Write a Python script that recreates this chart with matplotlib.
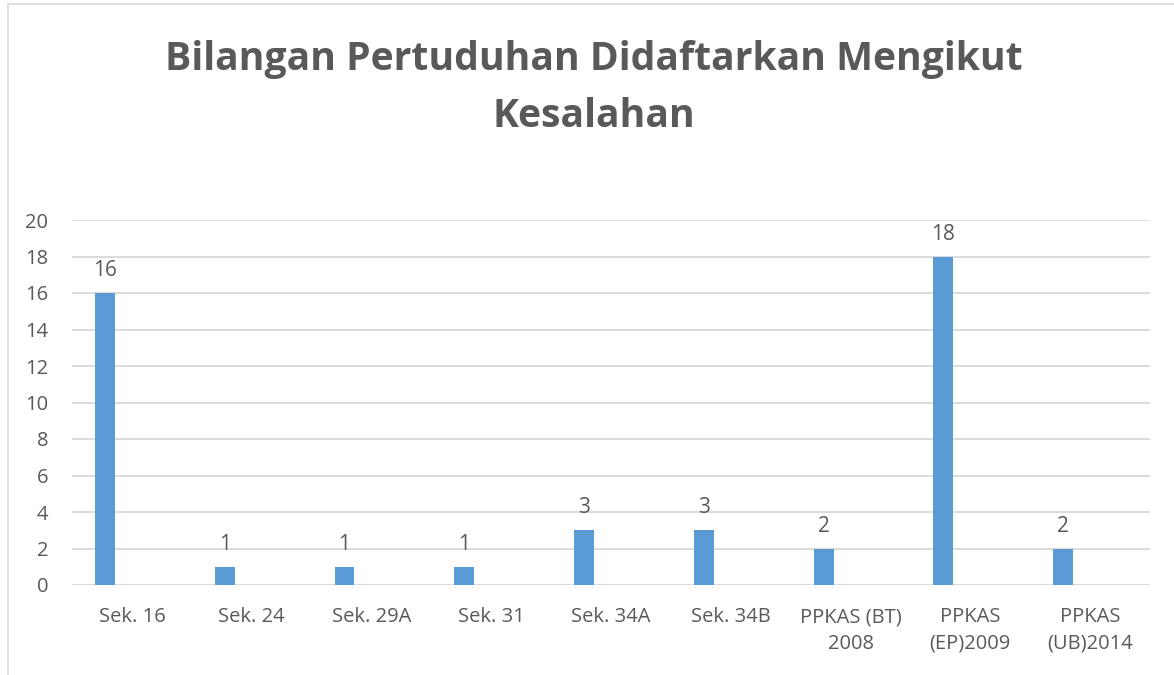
import matplotlib.pyplot as plt
import numpy as np
from matplotlib.patches import Rectangle

categories = ["Sek. 16", "Sek. 24", "Sek. 29A", "Sek. 31", "Sek. 34A", "Sek. 34B",
              "PPKAS (BT)\n2008", "PPKAS\n(EP)2009", "PPKAS\n(UB)2014"]
counts = [16, 1, 1, 1, 3, 3, 2, 18, 2]
y_ticks = [0, 2, 4, 6, 8, 10, 12, 14, 16, 18, 20]

TEXT = "#595959"
GRID = "#d9d9d9"
BAR = "#5b9bd5"

plt.rcParams['font.family'] = ['Open Sans', 'DejaVu Sans']

W, H = 1174, 675
fig = plt.figure(figsize=(W / 100, H / 100), dpi=100)

# chart border (Excel-style frame, cut by the screenshot on right/bottom)
fig.patches.append(Rectangle((8 / W, -0.1), 1.2, (1 - 4 / H) + 0.1,
                             transform=fig.transFigure, fill=False,
                             edgecolor=GRID, linewidth=1.2))

ax = fig.add_axes([72 / W, (H - 585) / H, (1150 - 72) / W, (585 - 220) / H])

x = np.arange(len(categories))
offset = -27 / 120
bars = ax.bar(x + offset, counts, width=20 / 120, color=BAR, zorder=3)

for xi, v in zip(x, counts):
    ax.text(xi + offset, v + 0.65, str(v), ha='center', va='bottom',
            fontsize=15, color=TEXT)

ax.set_xlim(-0.5, len(categories) - 0.5)
ax.set_ylim(0, 20)
ax.set_yticks(y_ticks)
ax.set_xticks(x)
ax.set_xticklabels(categories, linespacing=1.45)
ax.tick_params(axis='both', length=0, labelsize=14.5, labelcolor=TEXT)
ax.tick_params(axis='y', pad=17)
ax.tick_params(axis='x', pad=16)
ax.grid(axis='y', color=GRID, linewidth=1.3, zorder=0)
for s in ax.spines.values():
    s.set_visible(False)

fig.text(594 / W, 1 - 88 / H, "Bilangan Pertuduhan Didaftarkan Mengikut\nKesalahan",
         ha='center', va='center', fontsize=28.2, fontweight='bold', color=TEXT,
         linespacing=1.62)

fig.savefig("out.png", dpi=100)
